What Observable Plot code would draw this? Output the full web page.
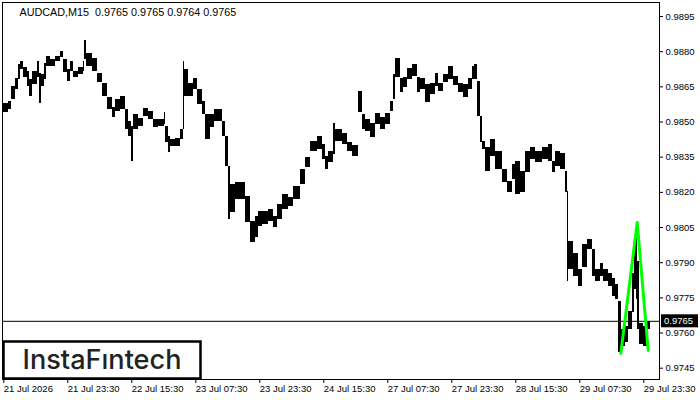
<!DOCTYPE html>
<html>
<head>
<meta charset="utf-8">
<script src="https://cdn.jsdelivr.net/npm/d3@7"></script>
<script src="https://cdn.jsdelivr.net/npm/@observablehq/plot@0.6"></script>
<style>
  html, body { margin: 0; padding: 0; background: #fff; }
  #chart { width: 700px; height: 400px; }
</style>
</head>
<body>
<div id="chart"></div>
<script>
// ---- Quote header ----
const symbol = "AUDCAD,M15";
const quoteOHLC = [0.9765, 0.9765, 0.9764, 0.9765];
const lastPrice = 0.9765;

// ---- Price series: groups of M15 bars (start bar index, high, low) ----
const barStart = [
  0,5,8,12,15,17,20,24,26,29,34,36,38,41,43,47,52,57,60,64,
  67,70,75,80,81,83,89,94,99,104,109,112,117,122,125,128,130,135,140,145,
  150,155,161,162,165,167,172,177,180,181,185,190,194,199,202,207,211,219,222,225,
  227,232,242,247,252,255,259,265,270,274,279,285,290,297,302,307,314,319,322,325,
  330,332,339,344,349,355,359,362,367,372,377,382,387,390,392,397,400,404,409,414,
  417,422,427,432,435,440,445,450,455,460,465,469,471,474,477,479,482,487,492,499,
  504,509,512,517,522,527,532,539,545,549,552,557,562,564,565,570,575,579,584,589,
  592,597,600,605,609,612,615,618,622,625,629,631,633,634,636,640,644
];
const barHigh = [
  0.98583,0.98592,0.98656,0.98690,0.98750,0.98762,0.98737,0.98720,0.98686,0.98720,
  0.98762,0.98711,0.98707,0.98754,0.98784,0.98771,0.98784,0.98805,0.98771,0.98728,
  0.98762,0.98720,0.98737,0.98762,0.98852,0.98796,0.98775,0.98711,0.98669,0.98609,
  0.98566,0.98600,0.98613,0.98558,0.98506,0.98485,0.98536,0.98519,0.98562,0.98549,
  0.98515,0.98515,0.98545,0.98485,0.98442,0.98430,0.98434,0.98472,0.98762,0.98728,
  0.98669,0.98690,0.98643,0.98592,0.98536,0.98536,0.98558,0.98506,0.98442,0.98315,
  0.98238,0.98246,0.98187,0.98080,0.98101,0.98123,0.98123,0.98131,0.98101,0.98152,
  0.98195,0.98182,0.98229,0.98302,0.98353,0.98421,0.98442,0.98408,0.98357,0.98378,
  0.98498,0.98472,0.98455,0.98417,0.98404,0.98634,0.98536,0.98515,0.98498,0.98541,
  0.98524,0.98541,0.98592,0.98707,0.98775,0.98690,0.98694,0.98732,0.98750,0.98694,
  0.98690,0.98664,0.98669,0.98711,0.98669,0.98707,0.98741,0.98698,0.98669,0.98664,
  0.98690,0.98741,0.98750,0.98677,0.98528,0.98421,0.98396,0.98430,0.98378,0.98302,
  0.98251,0.98323,0.98336,0.98293,0.98378,0.98396,0.98378,0.98396,0.98408,0.98336,
  0.98378,0.98370,0.98293,0.98208,0.97995,0.97943,0.97875,0.97982,0.98003,0.97961,
  0.97875,0.97901,0.97875,0.97858,0.97837,0.97811,0.97739,0.97619,0.97632,0.97696,
  0.97858,0.97995,0.98007,0.97909,0.97645,0.97632,0.97653
];
const barLow = [
  0.98536,0.98549,0.98592,0.98634,0.98677,0.98720,0.98686,0.98647,0.98605,0.98656,
  0.98686,0.98575,0.98647,0.98677,0.98732,0.98732,0.98754,0.98771,0.98707,0.98669,
  0.98711,0.98686,0.98698,0.98711,0.98762,0.98732,0.98711,0.98664,0.98605,0.98549,
  0.98515,0.98541,0.98549,0.98464,0.98434,0.98327,0.98464,0.98477,0.98519,0.98506,
  0.98472,0.98477,0.98485,0.98408,0.98366,0.98391,0.98391,0.98421,0.98464,0.98605,
  0.98605,0.98634,0.98570,0.98528,0.98421,0.98472,0.98498,0.98434,0.98306,0.98080,
  0.98110,0.98165,0.98067,0.97982,0.98003,0.98050,0.98059,0.98071,0.98046,0.98080,
  0.98123,0.98135,0.98165,0.98229,0.98302,0.98370,0.98378,0.98336,0.98293,0.98323,
  0.98357,0.98413,0.98400,0.98370,0.98349,0.98536,0.98464,0.98455,0.98430,0.98485,
  0.98464,0.98485,0.98541,0.98592,0.98686,0.98622,0.98643,0.98677,0.98690,0.98622,
  0.98634,0.98579,0.98613,0.98647,0.98626,0.98664,0.98677,0.98651,0.98622,0.98600,
  0.98634,0.98677,0.98677,0.98519,0.98408,0.98378,0.98285,0.98349,0.98293,0.98238,
  0.98195,0.98251,0.98187,0.98195,0.98280,0.98336,0.98323,0.98336,0.98327,0.98280,
  0.98306,0.98293,0.98195,0.97816,0.97867,0.97837,0.97794,0.97875,0.97952,0.97837,
  0.97816,0.97837,0.97816,0.97794,0.97752,0.97739,0.97513,0.97538,0.97555,0.97611,
  0.97683,0.97781,0.97739,0.97611,0.97547,0.97538,0.97611
];
const lastBar = 647;

// ---- Detected pattern (green) ----
const patternBars = [617, 633.4, 644.4];
const patternPrices = [0.97513, 0.98071, 0.97526];

// ---- Axes ----
const priceTicks = [0.9745,0.9760,0.9775,0.9790,0.9805,0.9820,0.9835,0.9850,0.9865,0.9880,0.9895];
const timeTickBars = [0,64,128,192,256,320,384,448,512,576,640];
const timeTickLabels = ["21 Jul 2026","21 Jul 23:30","22 Jul 15:30","23 Jul 07:30","23 Jul 23:30",
  "24 Jul 15:30","27 Jul 07:30","27 Jul 23:30","28 Jul 15:30","29 Jul 07:30","29 Jul 23:30"];
const brand = "InstaF\u0131ntech";

// ---- Build tables ----
const segments = barStart.map((b, i) => ({
  x1: b,
  x2: i < barStart.length - 1 ? barStart[i + 1] : lastBar,
  hi: barHigh[i],
  lo: barLow[i]
}));
const pattern = patternBars.map((b, i) => ({x: b, y: patternPrices[i]}));
const labelByBar = new Map(timeTickBars.map((b, i) => [b, timeTickLabels[i]]));
const header = `${symbol}  ${quoteOHLC.map(v => v.toFixed(4)).join(" ")}`;

const chart = Plot.plot({
  width: 700,
  height: 400,
  marginLeft: 2,
  marginRight: 41,
  marginTop: 2,
  marginBottom: 21,
  style: {fontFamily: "'Liberation Sans', Arial, sans-serif", fontSize: "9.5px", background: "#fff", color: "#000"},
  x: {type: "linear", domain: [-1.3, 655.7]},
  y: {type: "linear", domain: [0.974018, 0.990097]},
  marks: [
    Plot.ruleY([lastPrice], {stroke: "#000", strokeWidth: 1}),
    Plot.rect(segments, {x1: "x1", x2: "x2", y1: "lo", y2: "hi", insetTop: 1, insetBottom: 1,
      fill: "#000", shapeRendering: "crispEdges"}),
    Plot.line(pattern, {x: "x", y: "y", stroke: "#00ff00", strokeWidth: 3}),
    Plot.frame({stroke: "#000"}),
    Plot.axisY(priceTicks, {anchor: "right", tickSize: 3, tickPadding: 3, tickFormat: d => d.toFixed(4)}),
    Plot.axisX(timeTickBars, {anchor: "bottom", tickSize: 4, tickPadding: 2, textAnchor: "start", dx: 0,
      tickFormat: d => labelByBar.get(d)}),
    Plot.text([header], {frameAnchor: "top-left", dx: 17, dy: 6, text: d => d, fontSize: 10.8, fill: "#000"})
  ]
});

document.getElementById("chart").appendChild(chart);

// Current-price tag on the price axis, positioned with the chart's y scale
const svg = d3.select(chart);
const yPx = chart.scale("y").apply(lastPrice);
const xRight = chart.scale("x").range[1];
const tag = svg.append("g");
tag.append("rect").attr("x", xRight + 2).attr("y", yPx - 6.5).attr("width", 37).attr("height", 13).attr("fill", "#000");
tag.append("text").attr("x", xRight + 5).attr("y", yPx).attr("dy", "0.35em").attr("text-anchor", "start")
  .attr("fill", "#fff").attr("font-size", "9.5px").text(lastPrice.toFixed(4));

// Brand box, bottom-left of the plot frame
const [xLeft] = chart.scale("x").range;
const yBottom = chart.scale("y").range[0];
const logo = svg.append("g");
logo.append("rect").attr("x", xLeft + 1.5).attr("y", yBottom - 37.5).attr("width", 197).attr("height", 37)
  .attr("fill", "#fff").attr("stroke", "#000").attr("stroke-width", 2.5);
logo.append("text").attr("x", xLeft + 100).attr("y", yBottom - 10).attr("text-anchor", "middle")
  .attr("font-family", "Inter, 'Open Sans', sans-serif").attr("font-size", "27px").attr("font-weight", 500)
  .attr("fill", "#222").attr("textLength", 159).attr("lengthAdjust", "spacingAndGlyphs").text(brand);
</script>
</body>
</html>
